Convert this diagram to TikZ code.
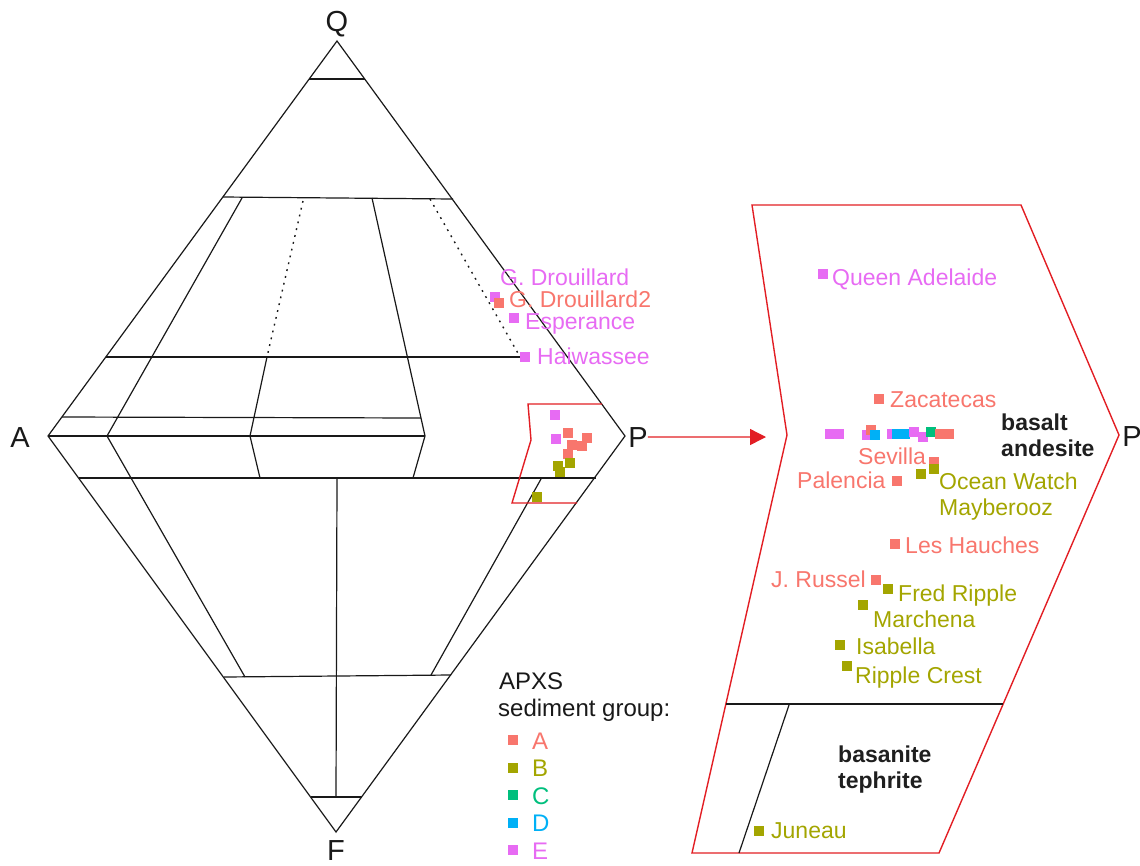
\documentclass[tikz,border=0pt]{standalone}
\usepackage{fontspec}
\setmainfont{Liberation Sans}
\usetikzlibrary{arrows.meta}
\definecolor{cA}{HTML}{F8766D}
\definecolor{cB}{HTML}{A3A500}
\definecolor{cC}{HTML}{00BF7D}
\definecolor{cD}{HTML}{00B0F6}
\definecolor{cE}{HTML}{E76BF3}
\definecolor{redc}{RGB}{226,30,36}
\begin{document}
\begin{tikzpicture}[x=1pt,y=-1pt,
  edge/.style={line width=1.2pt, draw=black!90},
  dotline/.style={line width=1.4pt, draw=black!90, dash pattern=on 1.8pt off 5.2pt},
  redline/.style={line width=1.4pt, draw=redc},
  mk/.style={rectangle, inner sep=0pt, minimum size=10pt},
  lab/.style={anchor=base west, inner sep=0pt, font=\fontsize{23}{27}\selectfont},
  rockname/.style={anchor=base west, inner sep=0pt, font=\fontsize{23}{27}\selectfont\bfseries, text=black!88},
  vtx/.style={anchor=base, inner sep=0pt, font=\fontsize{29}{30}\selectfont, text=black!90},
  leg/.style={anchor=base west, inner sep=0pt, font=\fontsize{24}{28}\selectfont}
]
\useasboundingbox (0,0) rectangle (1140,865);

% ---------- QAPF diamond ----------
\coordinate (Q) at (337,41);
\coordinate (A) at (48,436);
\coordinate (P) at (625,436);
\coordinate (F) at (336,832);
\draw[edge] (Q) -- (P) -- (F) -- (A) -- cycle;

\draw[edge] (309,79) -- (365,79);
\draw[edge] (223,197) -- (453,199);
\draw[edge] (242,198) -- (107,436) -- (245,677);
\draw[dotline] (303,201) -- (267,357);
\draw[edge] (267,357) -- (250,436) -- (260,478);
\draw[edge] (372,198) -- (425,436) -- (413,478);
\draw[dotline] (430,199) -- (519,355);
\draw[edge] (106,357) -- (524,357);
\draw[edge] (62,417) -- (421,418);
\draw[edge] (A) -- (425,436);
\draw[edge] (79,478) -- (596,478);
\draw[edge] (337,478) -- (336,797);
\draw[edge] (541,479) -- (431,675);
\draw[edge] (224,677) -- (451,675);
\draw[edge] (311,797) -- (362,797);

\node[vtx] (Ql) at (337,31) {Q};
\node[vtx] (Al) at (20,447) {A};
\node[vtx] (Pl) at (638,447) {P};
\node[vtx] (Fl) at (336,860) {F};

% small red window
\draw[redline] (602,404) -- (528,404) -- (531,440) -- (512,503) -- (577,503);

% markers in the small window
\node[mk, fill=cE] (s1) at (555,415) {};
\node[mk, fill=cE] (s2) at (556,439) {};
\node[mk, fill=cA] (s3) at (568,433) {};
\node[mk, fill=cA] (s4) at (587,438) {};
\node[mk, fill=cA] (s5) at (572,445) {};
\node[mk, fill=cA] (s6) at (582,446) {};
\node[mk, fill=cA] (s7) at (568,454) {};
\node[mk, fill=cB] (s8) at (558,466) {};
\node[mk, fill=cB] (s9) at (570,463) {};
\node[mk, fill=cB] (s10) at (560,472) {};
\node[mk, fill=cB] (s11) at (537,497) {};

% labelled points near the Q-P edge
\node[mk, fill=cE] (gd) at (495,297) {};
\node[mk, fill=cA] (gd2) at (499,303) {};
\node[mk, fill=cE] (esp) at (514,318) {};
\node[mk, fill=cE] (hai) at (525,357) {};
\node[lab, text=cE] (gdl) at (500,285) {G. Drouillard};
\node[lab, text=cA] (gd2l) at (509,307) {G. Drouillard2};
\node[lab, text=cE] (espl) at (525,329) {Esperance};
\node[lab, text=cE] (hail) at (537,364) {Haiwassee};

% arrow to enlarged window
\coordinate (tip) at (766,437);
\draw[redline, -{Triangle[length=16pt,width=16pt]}] (Pl.east) -- (tip);

% ---------- enlarged window ----------
\draw[redline, line join=miter] (752,205) -- (1021,205) -- (1119,435) -- (939,853) -- (692,853) -- (787,435) -- cycle;
\draw[edge] (726,704) -- (1003,704);
\draw[edge] (789,705) -- (739,853);

\node[vtx] (Pr) at (1132,446) {P};

\node[rockname] (ba1) at (1001,430) {basalt};
\node[rockname] (ba2) at (1001,456) {andesite};
\node[rockname] (bt1) at (838,762) {basanite};
\node[rockname] (bt2) at (838,788) {tephrite};

% row of points
\node[mk, fill=cE] (r1) at (830,434) {};
\node[mk, fill=cE] (r2) at (839,434) {};
\node[mk, fill=cE] (r3) at (867,435) {};
\node[mk, fill=cA] (r4) at (871,430) {};
\node[mk, fill=cD] (r5) at (875,435) {};
\node[mk, fill=cE] (r6) at (892,434) {};
\node[mk, fill=cD] (r7) at (897,434) {};
\node[mk, fill=cD] (r8) at (905,434) {};
\node[mk, fill=cE] (r9) at (914,432) {};
\node[mk, fill=cE] (r10) at (923,437) {};
\node[mk, fill=cC] (r11) at (931,432) {};
\node[mk, fill=cA] (r12) at (940,434) {};
\node[mk, fill=cA] (r13) at (949,434) {};

\node[mk, fill=cE] (qa) at (823,274) {};
\node[lab, text=cE] (qal) at (832,285) {Queen Adelaide};
\node[mk, fill=cA] (za) at (879,399) {};
\node[lab, text=cA] (zal) at (890,407) {Zacatecas};
\node[mk, fill=cA] (se) at (934,462) {};
\node[lab, text=cA] (sel) at (858,464) {Sevilla};
\node[mk, fill=cB] (ow) at (934,469) {};
\node[mk, fill=cB] (my) at (921,474) {};
\node[lab, text=cB] (owl) at (939,489) {Ocean Watch};
\node[lab, text=cB] (myl) at (939,515) {Mayberooz};
\node[mk, fill=cA] (pa) at (897,481) {};
\node[lab, text=cA] (pal) at (797,488) {Palencia};
\node[mk, fill=cA] (lh) at (895,544) {};
\node[lab, text=cA] (lhl) at (905,553) {Les Hauches};
\node[mk, fill=cA] (jr) at (876,580) {};
\node[lab, text=cA] (jrl) at (771,587) {J. Russel};
\node[mk, fill=cB] (fr) at (888,589) {};
\node[lab, text=cB] (frl) at (898,601) {Fred Ripple};
\node[mk, fill=cB] (ma) at (863,605) {};
\node[lab, text=cB] (mal) at (873,627) {Marchena};
\node[mk, fill=cB] (is) at (840,645) {};
\node[lab, text=cB] (isl) at (856,654) {Isabella};
\node[mk, fill=cB] (rc) at (847,666) {};
\node[lab, text=cB] (rcl) at (855,683) {Ripple Crest};
\node[mk, fill=cB] (ju) at (759,831) {};
\node[lab, text=cB] (jul) at (771,838) {Juneau};

% ---------- legend ----------
\node[leg, text=black!90] (lg1) at (499,689) {APXS};
\node[leg, text=black!90] (lg2) at (498,716) {sediment group:};
\node[mk, fill=cA] (lA) at (513,740) {};
\node[mk, fill=cB] (lB) at (513,767.5) {};
\node[mk, fill=cC] (lC) at (513,795) {};
\node[mk, fill=cD] (lD) at (513,822.5) {};
\node[mk, fill=cE] (lE) at (513,850) {};
\node[leg, text=cA] (tA) at (532,749) {A};
\node[leg, text=cB] (tB) at (532,776.5) {B};
\node[leg, text=cC] (tC) at (532,804) {C};
\node[leg, text=cD] (tD) at (532,831.5) {D};
\node[leg, text=cE] (tE) at (532,859) {E};
\end{tikzpicture}
\end{document}
